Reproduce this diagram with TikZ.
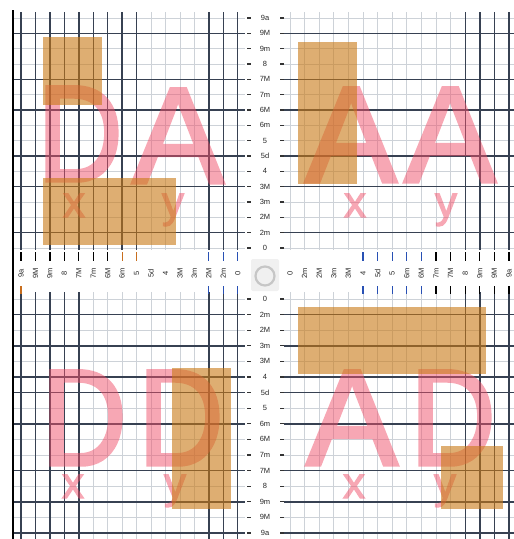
\documentclass[tikz,border=0pt]{standalone}
\usepackage{fontspec}
\setmainfont{Liberation Sans}
\newfontfamily\glyphfont[FakeBold=2.5]{Liberation Sans}
\newfontfamily\narrowglyphfont[FakeBold=2.5, FakeStretch=0.86]{Liberation Sans}
\definecolor{gridlight}{RGB}{205,210,216}
\definecolor{griddark}{RGB}{55,65,82}
\definecolor{glyphpink}{RGB}{240,80,105}
\definecolor{blockorange}{RGB}{200,120,20}
\definecolor{tickblue}{RGB}{40,80,180}
\definecolor{tickorange}{RGB}{200,110,30}
\begin{document}
\begin{tikzpicture}[x=1pt, y=-1pt,
    light/.style={draw=gridlight, line width=0.8pt},
    dark/.style={draw=griddark, line width=1.4pt},
    glyph/.style={text=glyphpink, inner sep=0, anchor=base, font=\glyphfont\fontsize{137}{137}\selectfont},
    dglyph/.style={glyph, font=\narrowglyphfont\fontsize{137}{137}\selectfont},
    varname/.style={text=glyphpink, inner sep=0, anchor=base, font=\glyphfont\fontsize{44}{44}\selectfont},
    block/.style={fill=blockorange, fill opacity=0.6},
    rlabel/.style={inner sep=0, font=\fontsize{7.5}{7.5}\selectfont, text=black!85},
    tick/.style={line width=1.2pt}
  ]
  \useasboundingbox (0,0) rectangle (514,539);
  % light grid
  \foreach \i in {0,...,15} {
    \draw[light] ({21+14.45*\i},12) -- ({21+14.45*\i},250);
    \draw[light] ({290+14.6*\i},12) -- ({290+14.6*\i},250);
    \draw[light] ({21+14.45*\i},292) -- ({21+14.45*\i},539);
    \draw[light] ({290+14.6*\i},292) -- ({290+14.6*\i},539);
    \draw[light] (13,{248-15.33*\i}) -- (245,{248-15.33*\i});
    \draw[light] (284,{248-15.33*\i}) -- (514,{248-15.33*\i});
    \draw[light] (13,{299+15.6*\i}) -- (245,{299+15.6*\i});
    \draw[light] (284,{299+15.6*\i}) -- (514,{299+15.6*\i});
  }
  % dark rows
  \foreach \j in {1,4,6,9,11,14} {
    \draw[dark] (13,{248-15.33*\j}) -- (245,{248-15.33*\j});
    \draw[dark] (284,{248-15.33*\j}) -- (514,{248-15.33*\j});
  }
  \foreach \k in {1,3,5,6,8,11,13,15} {
    \draw[dark] (13,{299+15.6*\k}) -- (245,{299+15.6*\k});
    \draw[dark] (284,{299+15.6*\k}) -- (514,{299+15.6*\k});
  }
  % dark columns
  \foreach \i in {0,1,2,3,4,5,6,7,8,13,14,15}
    \draw[dark] ({21+14.45*\i},12) -- ({21+14.45*\i},250);
  \foreach \i in {0,1,2,3,4,13,14,15}
    \draw[dark] ({21+14.45*\i},292) -- ({21+14.45*\i},539);
  \foreach \i in {12,13,14,15} {
    \draw[dark] ({290+14.6*\i},12) -- ({290+14.6*\i},250);
    \draw[dark] ({290+14.6*\i},292) -- ({290+14.6*\i},539);
  }
  \draw[line width=2pt] (13,10) -- (13,539);
  % letters
  \begin{scope}[transparency group, opacity=0.5]
    \node[dglyph] (tl-first)  at (80,181)  {D};
    \node[glyph]  (tl-second) at (178,183) {A};
    \node[glyph]  (tr-first)  at (351,182) {A};
    \node[glyph]  (tr-second) at (450,182) {A};
    \node[dglyph] (bl-first)  at (84,465)  {D};
    \node[dglyph] (bl-second) at (181,465) {D};
    \node[glyph]  (br-first)  at (352,465) {A};
    \node[dglyph] (br-second) at (453,465) {D};
    \node[varname] (tl-x) at (74,217)  {x};
    \node[varname] (tl-y) at (173,217) {y};
    \node[varname] (tr-x) at (355,217) {x};
    \node[varname] (tr-y) at (446,217) {y};
    \node[varname] (bl-x) at (73,498)  {x};
    \node[varname] (bl-y) at (175,498) {y};
    \node[varname] (br-x) at (354,498) {x};
    \node[varname] (br-y) at (445,498) {y};
  \end{scope}
  % orange blocks
  \fill[block] (43,37) rectangle (102,105);
  \fill[block] (43,178) rectangle (176,245);
  \fill[block] (298,42) rectangle (357,184);
  \fill[block] (172,368) rectangle (231,509);
  \fill[block] (298,307) rectangle (486,374);
  \fill[block] (441,446) rectangle (503,509);
  % rulers
  \foreach \lab [count=\n from 0] in {0,2m,2M,3m,3M,4,5d,5,6m,6M,7m,7M,8,9m,9M,9a} {
    \node[rlabel] (up-\n) at (265,{248-15.33*\n}) {\lab};
    \node[rlabel] (dn-\n) at (265,{299+15.6*\n}) {\lab};
    \node[rlabel, rotate=90] (lt-\n) at ({21+14.45*(15-\n)},273) {\lab};
    \node[rlabel, rotate=90] (rt-\n) at ({290+14.6*\n},273) {\lab};
    \draw[tick, black!80] (247,{248-15.33*\n}) -- (251,{248-15.33*\n});
    \draw[tick, black!80] (280,{248-15.33*\n}) -- (284,{248-15.33*\n});
    \draw[tick, black!80] (247,{299+15.6*\n}) -- (251,{299+15.6*\n});
    \draw[tick, black!80] (280,{299+15.6*\n}) -- (284,{299+15.6*\n});
  }
  \foreach \i in {0,...,6}
    \draw[tick, black] ({21+14.45*\i},252) -- ({21+14.45*\i},261);
  \foreach \i in {7,8}
    \draw[tick, tickorange] ({21+14.45*\i},252) -- ({21+14.45*\i},261);
  \foreach \i in {13,14,15} {
    \draw[tick, tickblue] ({21+14.45*\i},252) -- ({21+14.45*\i},261);
    \draw[tick, tickblue] ({21+14.45*\i},286) -- ({21+14.45*\i},294);
  }
  \draw[tick, tickorange] (21,286) -- (21,294);
  \foreach \i in {5,...,9} {
    \draw[tick, tickblue] ({290+14.6*\i},252) -- ({290+14.6*\i},261);
    \draw[tick, tickblue] ({290+14.6*\i},286) -- ({290+14.6*\i},294);
  }
  \foreach \i in {10,...,15} {
    \draw[tick, black] ({290+14.6*\i},252) -- ({290+14.6*\i},261);
    \draw[tick, black] ({290+14.6*\i},286) -- ({290+14.6*\i},294);
  }
  % origin
  \fill[gray!12, rounded corners=2pt] (251,259) rectangle (279,291);
  \node[circle, draw=gray!45, line width=2.2pt, minimum size=19pt, inner sep=0] (origin) at (265,276) {};
\end{tikzpicture}
\end{document}
